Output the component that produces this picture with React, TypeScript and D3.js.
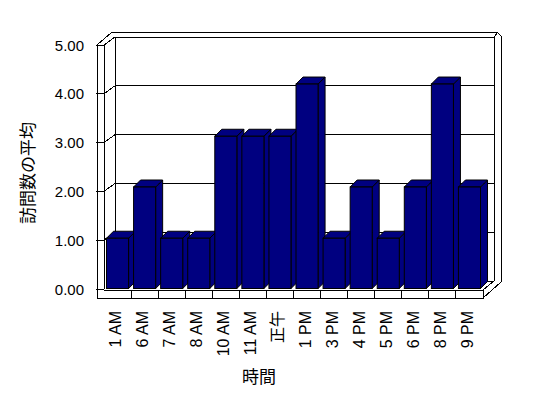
import React from 'react';
import * as d3 from 'd3';

const categories = ['1 AM', '6 AM', '7 AM', '8 AM', '10 AM', '11 AM', '正午', '1 PM', '3 PM', '4 PM', '5 PM', '6 PM', '8 PM', '9 PM'];
const avgVisits = [1.04, 2.09, 1.04, 1.04, 3.13, 3.13, 3.13, 4.2, 1.04, 2.09, 1.04, 2.09, 4.2, 2.09];
const yTicks = [0, 1, 2, 3, 4, 5];

const W = 548;
const H = 398;
const font = '"Liberation Sans", "Noto Sans CJK JP", sans-serif';
const navy = '#000080';

function App() {
  const xScale = d3.scaleBand().domain(categories).range([104, 483]).padding(0);
  const yScale = d3.scaleLinear().domain([0, 5]).range([289, 45]);

  // oblique depth of the frame and of the bars
  const dx = 11, dy = -8;
  const bdx = 7, bdy = -7;

  const x0 = xScale.range()[0];
  const x1 = xScale.range()[1];
  const yb = yScale(0);
  const yt = yScale(5);
  const wall = 7; // wall thickness
  const bw = xScale.bandwidth();

  const line = (pts: number[][]) => 'M' + pts.map(p => p.join(',')).join('L');

  return (
    <svg width={W} height={H} style={{ position: 'absolute', left: 0, top: 0, background: '#fff' }}>
      <g fill="none" stroke="#000" strokeWidth={1} shapeRendering="crispEdges">
        {/* back wall outer outline */}
        <path d={line([[x0 - wall, yt], [x0 + dx - 3, yt + dy - 5], [x1 + dx + 3, yt + dy - 5], [x1 + dx + 7, yt + dy - 1], [x1 + dx + 7, yb + dy + 1], [x1, yb + 9]])} />
        {/* back wall inner */}
        <path d={line([[x0 + dx, yb + dy], [x0 + dx, yt + dy], [x1 + dx, yt + dy], [x1 + dx, yb + dy]])} />
        <path d={line([[x1 + dx, yt + dy], [x1 + dx + 4, yt + dy - 5]])} />
        {/* left wall */}
        <path d={line([[x0, yb], [x0, yt], [x0 + dx, yt + dy]])} />
        <path d={line([[x0 - wall, yt], [x0 - wall, yb + 9], [x1, yb + 9], [x1, yb + 1]])} />
        <path d={line([[x0, yb + 1], [x1, yb + 1], [x1 + dx, yb + dy]])} />
        <path d={line([[x0 + dx, yb + dy], [x1 + dx, yb + dy]])} />
        {/* floor front dividers */}
        {categories.slice(1).map(c => (
          <path key={c} d={line([[xScale(c)!, yb + 1], [xScale(c)!, yb + 9]])} />
        ))}
        {/* gridlines on back wall and side wall */}
        {yTicks.slice(1).map(v => (
          <path key={v} d={line([[x0 - wall - 1, yScale(v)], [x0, yScale(v)], [x0 + dx, yScale(v) + dy], [x1 + dx, yScale(v) + dy]])} />
        ))}
        <path d={line([[x0 - wall - 1, yb], [x0, yb]])} />
      </g>

      {/* bars */}
      <g stroke="#000" strokeWidth={1} strokeLinejoin="miter">
        {categories.map((c, i) => {
          const left = xScale(c)! + 2.5;
          const right = xScale(c)! + bw - 2.5;
          const top = yScale(avgVisits[i]);
          const bottom = yb - 0.5;
          return (
            <g key={c}>
              <path fill={navy} d={line([[right, bottom], [right + bdx, bottom + bdy], [right + bdx, top + bdy], [right, top]]) + 'Z'} />
              <path fill={navy} d={line([[left, top], [left + bdx, top + bdy], [right + bdx, top + bdy], [right, top]]) + 'Z'} />
              <rect x={left} y={top} width={right - left} height={bottom - top} fill={navy} />
            </g>
          );
        })}
      </g>

      {/* y tick labels */}
      <g fontFamily={font} fontSize={15} fill="#000" textAnchor="end">
        {yTicks.map(v => (
          <text key={v} x={84} y={yScale(v)} dominantBaseline="central">{v.toFixed(2)}</text>
        ))}
      </g>

      {/* x tick labels */}
      <g fontFamily={font} fontSize={16} fill="#000" textAnchor="end">
        {categories.map(c => {
          const cx = xScale(c)! + bw / 2 - 2;
          return (
            <text key={c} transform={`translate(${cx},311) rotate(-90)`} dominantBaseline="central">{c}</text>
          );
        })}
      </g>

      {/* axis titles */}
      <text x={259} y={377} fontFamily={font} fontSize={17} textAnchor="middle" dominantBaseline="central">時間</text>
      <text transform="translate(28,173) rotate(-90)" fontFamily={font} fontSize={17} textAnchor="middle" dominantBaseline="central">訪問数の平均</text>
    </svg>
  );
}

export default App;
